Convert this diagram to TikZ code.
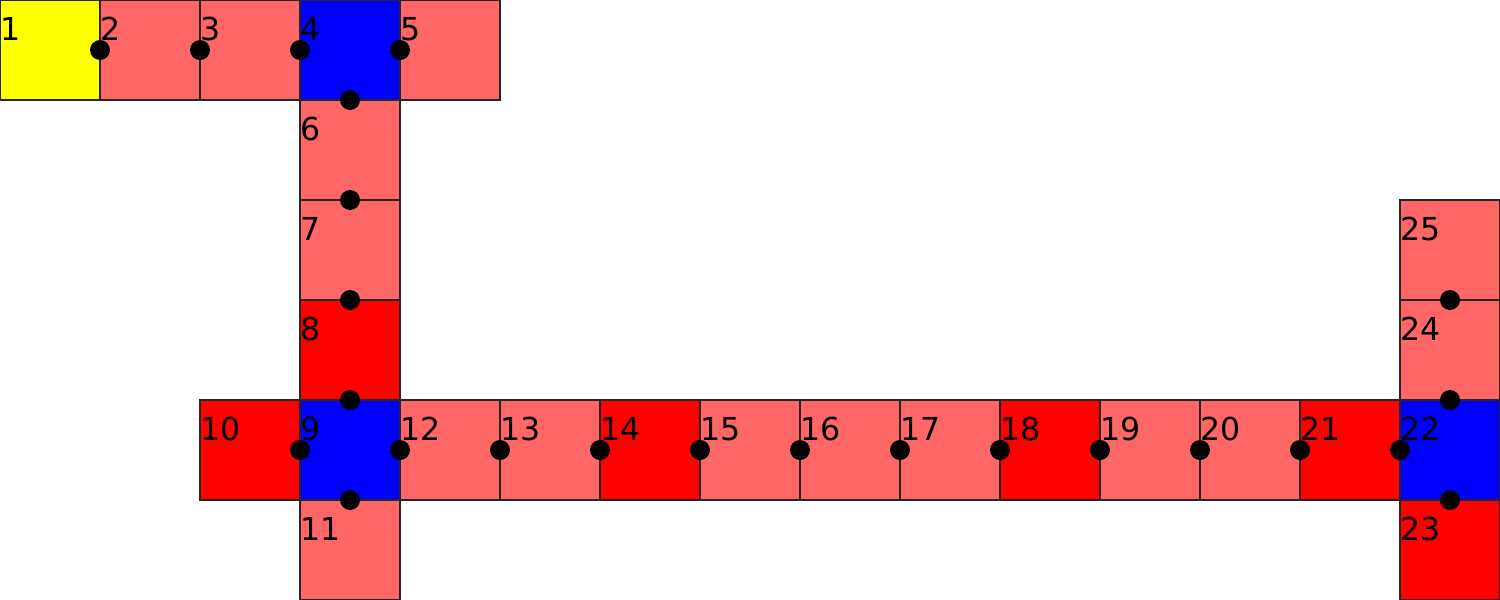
\documentclass[tikz,border=0pt]{standalone}
\usepackage{fontspec}
\setmainfont{DejaVu Sans}
\usepackage{tikz}
\usetikzlibrary{positioning}

\definecolor{lightred}{HTML}{FF6666}
\definecolor{cellyellow}{HTML}{FFFF00}
\definecolor{cellred}{HTML}{FF0000}
\definecolor{cellblue}{HTML}{0000FF}

\begin{document}
\begin{tikzpicture}[node distance=0pt,
        cell/.style={draw=black!85, line width=0.3pt, minimum size=1cm, outer sep=0pt, inner sep=0pt},
        num/.style={anchor=base west, inner sep=0pt, yshift=-0.4cm, font=\fontsize{9}{11}\selectfont},
        dot/.style={circle, fill=black, minimum size=0.2cm, inner sep=0pt}]
        \useasboundingbox (0,0) rectangle (15,-6);
        % top row
        \node[cell, fill=cellyellow, label={[num]north west:1}] (c1) at (0.5,-0.5) {};
        \node[cell, fill=lightred, right=of c1, label={[num]north west:2}] (c2) {};
        \node[cell, fill=lightred, right=of c2, label={[num]north west:3}] (c3) {};
        \node[cell, fill=cellblue, right=of c3, label={[num]north west:4}] (c4) {};
        \node[cell, fill=lightred, right=of c4, label={[num]north west:5}] (c5) {};
        % column down
        \node[cell, fill=lightred, below=of c4, label={[num]north west:6}] (c6) {};
        \node[cell, fill=lightred, below=of c6, label={[num]north west:7}] (c7) {};
        \node[cell, fill=cellred, below=of c7, label={[num]north west:8}] (c8) {};
        \node[cell, fill=cellblue, below=of c8, label={[num]north west:9}] (c9) {};
        \node[cell, fill=cellred, left=of c9, label={[num]north west:10}] (c10) {};
        \node[cell, fill=lightred, below=of c9, label={[num]north west:11}] (c11) {};
        % bottom row
        \node[cell, fill=lightred, right=of c9, label={[num]north west:12}] (c12) {};
        \node[cell, fill=lightred, right=of c12, label={[num]north west:13}] (c13) {};
        \node[cell, fill=cellred, right=of c13, label={[num]north west:14}] (c14) {};
        \node[cell, fill=lightred, right=of c14, label={[num]north west:15}] (c15) {};
        \node[cell, fill=lightred, right=of c15, label={[num]north west:16}] (c16) {};
        \node[cell, fill=lightred, right=of c16, label={[num]north west:17}] (c17) {};
        \node[cell, fill=cellred, right=of c17, label={[num]north west:18}] (c18) {};
        \node[cell, fill=lightred, right=of c18, label={[num]north west:19}] (c19) {};
        \node[cell, fill=lightred, right=of c19, label={[num]north west:20}] (c20) {};
        \node[cell, fill=cellred, right=of c20, label={[num]north west:21}] (c21) {};
        \node[cell, fill=cellblue, right=of c21, label={[num]north west:22}] (c22) {};
        \node[cell, fill=cellred, below=of c22, label={[num]north west:23}] (c23) {};
        \node[cell, fill=lightred, above=of c22, label={[num]north west:24}] (c24) {};
        \node[cell, fill=lightred, above=of c24, label={[num]north west:25}] (c25) {};

        % joints
        \path (c1) -- node[dot] {} (c2);
        \path (c2) -- node[dot] {} (c3);
        \path (c3) -- node[dot] {} (c4);
        \path (c4) -- node[dot] {} (c5);
        \path (c4) -- node[dot] {} (c6);
        \path (c6) -- node[dot] {} (c7);
        \path (c7) -- node[dot] {} (c8);
        \path (c8) -- node[dot] {} (c9);
        \path (c10) -- node[dot] {} (c9);
        \path (c9) -- node[dot] {} (c11);
        \path (c9) -- node[dot] {} (c12);
        \path (c12) -- node[dot] {} (c13);
        \path (c13) -- node[dot] {} (c14);
        \path (c14) -- node[dot] {} (c15);
        \path (c15) -- node[dot] {} (c16);
        \path (c16) -- node[dot] {} (c17);
        \path (c17) -- node[dot] {} (c18);
        \path (c18) -- node[dot] {} (c19);
        \path (c19) -- node[dot] {} (c20);
        \path (c20) -- node[dot] {} (c21);
        \path (c21) -- node[dot] {} (c22);
        \path (c22) -- node[dot] {} (c23);
        \path (c22) -- node[dot] {} (c24);
        \path (c24) -- node[dot] {} (c25);
    \end{tikzpicture}
\end{document}
